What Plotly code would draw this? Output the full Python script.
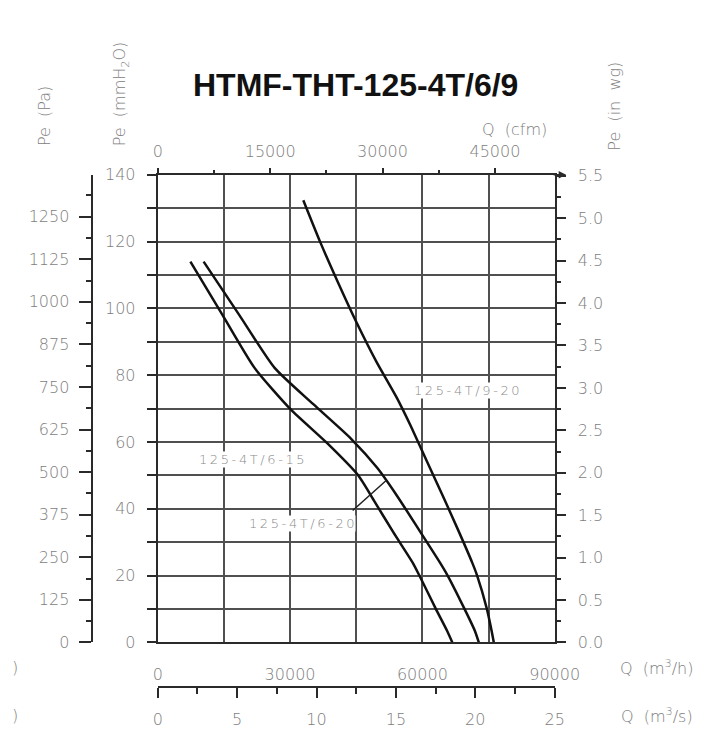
import plotly.graph_objects as go

# ---------------- data (Q in m3/h, Pe in mmH2O) ----------------
q_6_15 = [7400, 14700, 21950, 30200, 38300, 45400, 49100, 53400, 57800, 59300, 63000, 65600, 66800]
p_6_15 = [114, 98, 82.2, 69.7, 59.8, 50.1, 42.3, 33.0, 23.9, 20.1, 10.2, 3.5, 0]

q_6_20 = [10400, 18500, 26500, 35200, 43900, 49800, 54200, 59100, 64000, 65700, 69500, 71900, 72800]
p_6_20 = [114, 98, 82.2, 71.4, 60.9, 52.2, 44.0, 34.0, 23.9, 20.1, 10.2, 3.5, 0]

q_9_20 = [33000, 36800, 40800, 45000, 49600, 54100, 57400, 61100, 64600, 68000, 71300, 72400, 74600, 75700, 76200]
p_9_20 = [132.4, 120, 108, 96, 84, 73.5, 64.7, 54, 44, 34, 23.9, 20.1, 10.2, 3.5, 0]

curve_labels = ["125-4T/6-15", "125-4T/6-20", "125-4T/9-20"]
label_q = [21300, 32600, 70200]
label_p = [54.8, 35.6, 75.5]
leader_q = [44200, 51800]
leader_p = [39.5, 48.5]

title_text = "HTMF-THT-125-4T/6/9"

q_h_ticks = [0, 15000, 30000, 45000, 60000, 75000, 90000]
q_h_text = ["0", "", "30000", "", "60000", "", "90000"]
mm_ticks = list(range(0, 141, 10))
mm_text = [str(v) if v % 20 == 0 else "" for v in mm_ticks]
pa_ticks = list(range(0, 1251, 125))
pa_minor = [62.5 + 125 * i for i in range(11)]
inwg_ticks = [0.5 * i for i in range(12)]
inwg_minor = [0.25 + 0.5 * i for i in range(11)]
cfm_ticks = [0, 15000, 30000, 45000]
cfm_minor = [7500, 22500, 37500]
qs_ticks = [0, 5, 10, 15, 20, 25]
qs_minor = [2.5, 7.5, 12.5, 17.5, 22.5]

# ---------------- layout helpers ----------------
W, H = 726, 736
def px(x):
    return x / W
def py(y):
    return 1 - y / H

X0, X1 = 151, 565
YT, YB = 162, 642
QMAX, PMAX = 90000, 140

TXT = "#7d7d7d"
FONT = dict(family="DejaVu Sans", size=16, color=TXT, weight=200)
GRID = "#505050"
AX = "#2a2a2a"

fig = go.Figure()
for q, p in [(q_6_15, p_6_15), (q_6_20, p_6_20), (q_9_20, p_9_20)]:
    fig.add_trace(go.Scatter(x=q, y=p, mode="lines",
                             line=dict(color="#111", width=2.5, shape="spline", smoothing=0.6),
                             hoverinfo="skip", showlegend=False))
# dummy traces so every axis is drawn
for xa, ya in [("x2", "y"), ("x3", "y"), ("x", "y2"), ("x", "y3")]:
    fig.add_trace(go.Scatter(x=[None], y=[None], xaxis=xa, yaxis=ya,
                             hoverinfo="skip", showlegend=False))

fig.update_layout(
    width=W, height=H,
    margin=dict(l=0, r=0, t=0, b=0, pad=0),
    paper_bgcolor="white", plot_bgcolor="white",
    showlegend=False,
    xaxis=dict(domain=[px(X0), px(X1)], range=[0, QMAX], tickvals=q_h_ticks, ticktext=q_h_text,
               showgrid=True, gridcolor=GRID, gridwidth=1.5, ticks="", zeroline=False,
               showline=True, mirror=True, linecolor=AX, linewidth=2,
               tickfont=FONT, ticklabelstandoff=16, anchor="y", fixedrange=True),
    yaxis=dict(domain=[py(YB), py(YT)], range=[0, PMAX], tickvals=mm_ticks, ticktext=mm_text,
               showgrid=True, gridcolor=GRID, gridwidth=1.5, zeroline=False,
               ticks="outside", ticklen=9, tickwidth=1.5, tickcolor=AX,
               showline=True, mirror=True, linecolor=AX, linewidth=2,
               tickfont=FONT, ticklabelstandoff=8, anchor="x", fixedrange=True),
    yaxis2=dict(overlaying="y", side="right", anchor="x", range=[0, PMAX / 25.4],
                tickvals=inwg_ticks, ticktext=["%.1f" % v for v in inwg_ticks],
                ticks="outside", ticklen=10, tickwidth=1.5, tickcolor=AX,
                minor=dict(tickvals=inwg_minor, ticks="outside", ticklen=5, tickcolor=AX, showgrid=False),
                showgrid=False, zeroline=False, showline=False,
                tickfont=FONT, ticklabelstandoff=9, fixedrange=True),
    yaxis3=dict(overlaying="y", side="left", anchor="free", position=px(82),
                range=[0, PMAX * 9.80665], tickvals=pa_ticks, ticktext=[str(v) for v in pa_ticks],
                ticks="outside", ticklen=12, tickwidth=2, tickcolor=AX,
                minor=dict(tickvals=pa_minor, ticks="outside", ticklen=5, tickcolor=AX, showgrid=False),
                showgrid=False, zeroline=False, showline=True, linecolor=AX, linewidth=2,
                tickfont=FONT, ticklabelstandoff=6, fixedrange=True),
    xaxis2=dict(overlaying="x", side="top", anchor="y", range=[0, QMAX / 1.69901],
                tickvals=cfm_ticks, ticktext=[str(v) for v in cfm_ticks],
                ticks="outside", ticklen=6, tickwidth=1.5, tickcolor=AX,
                minor=dict(tickvals=cfm_minor, ticks="outside", ticklen=4, tickcolor=AX, showgrid=False),
                showgrid=False, zeroline=False, showline=False,
                tickfont=FONT, ticklabelstandoff=4, fixedrange=True),
    xaxis3=dict(overlaying="x", side="bottom", anchor="free", position=py(688),
                range=[0, 25], tickvals=qs_ticks, ticktext=[str(v) for v in qs_ticks],
                ticks="outside", ticklen=10, tickwidth=2, tickcolor=AX,
                minor=dict(tickvals=qs_minor, ticks="outside", ticklen=6, tickcolor=AX, showgrid=False),
                showgrid=False, zeroline=False, showline=True, linecolor=AX, linewidth=2,
                tickfont=FONT, ticklabelstandoff=8, fixedrange=True),
)

ann = []
def paper_text(x, y, text, angle=0, size=16, color=TXT, bold=False, family="DejaVu Sans"):
    f = dict(family=family, size=size, color=color)
    if not bold:
        f["weight"] = 200
    ann.append(dict(x=px(x), y=py(y), xref="paper", yref="paper", text=text, showarrow=False,
                    textangle=angle, font=f, xanchor="center", yanchor="middle"))

paper_text(357, 70, "<b>" + title_text + "</b>", size=32, color="#111", bold=True, family="Liberation Sans")
paper_text(33, 102, "Pe  (Pa)", angle=-90)
paper_text(113, 79, "Pe  (mmH<sub>2</sub>O)", angle=-90)
paper_text(628, 92, "Pe  (in  wg)", angle=-90)
paper_text(523, 115, "Q  (cfm)")
paper_text(672, 668, "Q  (m<sup>3</sup>/h)")
paper_text(672, 717, "Q  (m<sup>3</sup>/s)")
paper_text(2, 668, ")")
paper_text(2, 717, ")")

for t, q, p in zip(curve_labels, label_q, label_p):
    spaced = "\u2009".join(list(t))
    ann.append(dict(x=q, y=p, xref="x", yref="y", text=spaced, showarrow=False,
                    font=dict(family="DejaVu Sans", size=13, color="#8a8a8a", weight=200),
                    bgcolor="white", borderpad=0, xanchor="center", yanchor="middle"))

# arrow at the right end of the top (cfm) axis
ann.append(dict(x=px(577), y=py(YT), xref="paper", yref="paper", text="", showarrow=True,
                ax=-14, ay=0, arrowhead=2, arrowsize=1, arrowwidth=1.5, arrowcolor=AX))
fig.update_layout(annotations=ann)

fig.add_shape(type="line", xref="x", yref="y", x0=leader_q[0], y0=leader_p[0],
              x1=leader_q[1], y1=leader_p[1], line=dict(color="#222", width=1.5))

fig.write_html("out.html")
